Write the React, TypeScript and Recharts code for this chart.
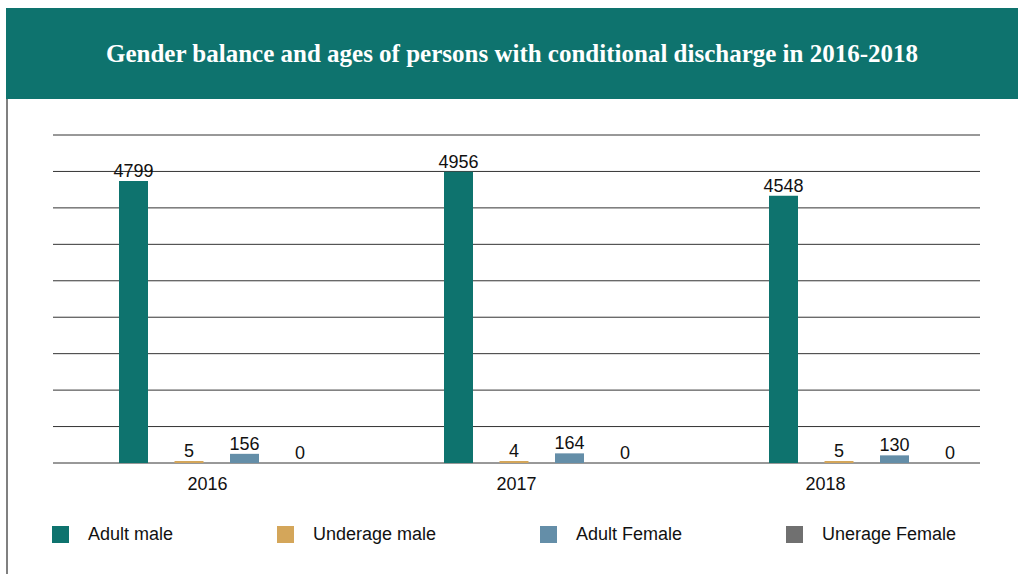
import React from 'react';
import { BarChart, Bar, XAxis, YAxis, CartesianGrid, LabelList } from 'recharts';

const years = ['2016', '2017', '2018'];
const adultMale = [4799, 4956, 4548];
const underageMale = [5, 4, 5];
const adultFemale = [156, 164, 130];
const underageFemale = [0, 0, 0];

const gridTicks = [0, 620, 1240, 1860, 2480, 3100, 3720, 4340, 4960, 5580];

const SERIES = [
  { key: 'adultMale', name: 'Adult male', color: '#0e736e' },
  { key: 'underageMale', name: 'Underage male', color: '#d4a65a' },
  { key: 'adultFemale', name: 'Adult Female', color: '#648ea8' },
  { key: 'underageFemale', name: 'Unerage Female', color: '#707070' },
];

const data = years.map((year, i) => ({
  year,
  adultMale: adultMale[i],
  underageMale: underageMale[i],
  adultFemale: adultFemale[i],
  underageFemale: underageFemale[i],
}));

const SANS = '"Liberation Sans", Arial, sans-serif';

// tiny values still get a visible sliver; zeros keep a hairline so their label is placed
const minSize = (value: number) => (value > 0 ? 2 : 0.01);

const App: React.FC = () => {
  return (
    <div style={{ position: 'absolute', left: 0, top: 0, width: 1018, height: 574, background: '#fff', fontFamily: SANS }}>
      {/* header band */}
      <div
        style={{
          position: 'absolute',
          left: 6,
          top: 8,
          width: 1012,
          height: 91,
          background: '#0e736e',
          color: '#fff',
          display: 'flex',
          alignItems: 'center',
          justifyContent: 'center',
          fontFamily: '"Liberation Serif", "Times New Roman", serif',
          fontWeight: 'bold',
          fontSize: 25,
        }}
      >
        Gender balance and ages of persons with conditional discharge in 2016-2018
      </div>
      <div style={{ position: 'absolute', left: 6, top: 99, width: 2, height: 475, background: '#808080' }} />

      <div style={{ position: 'absolute', left: 0, top: 98 }}>
        <BarChart
          width={1018}
          height={402}
          data={data}
          margin={{ top: 37, right: 38, left: 53, bottom: 0 }}
          barSize={29}
          barGap={26.5}
        >
          <CartesianGrid vertical={false} stroke="#333" />
          <YAxis hide domain={[0, 5580]} ticks={gridTicks} />
          <XAxis
            dataKey="year"
            height={37}
            axisLine={false}
            tickLine={false}
            tickMargin={8}
            tick={{ fill: '#111', fontSize: 18, fontFamily: SANS }}
          />
          <XAxis xAxisId="bars" dataKey="year" hide padding={{ left: 1, right: -49 }} />
          {SERIES.map((s) => (
            <Bar
              key={s.key}
              xAxisId="bars"
              dataKey={s.key}
              name={s.name}
              fill={s.color}
              minPointSize={minSize}
              isAnimationActive={false}
            >
              <LabelList dataKey={s.key} position="top" offset={4} fill="#111" fontSize={18} fontFamily={SANS} />
            </Bar>
          ))}
        </BarChart>
      </div>

      {/* legend */}
      <div
        style={{
          position: 'absolute',
          left: 52,
          top: 524,
          width: 904,
          display: 'flex',
          justifyContent: 'space-between',
          alignItems: 'center',
          fontSize: 18,
          color: '#111',
        }}
      >
        {SERIES.map((s) => (
          <div key={s.key} style={{ display: 'flex', alignItems: 'center' }}>
            <span style={{ display: 'inline-block', width: 17, height: 17, background: s.color, marginRight: 19 }} />
            <span>{s.name}</span>
          </div>
        ))}
      </div>
    </div>
  );
};

export default App;
